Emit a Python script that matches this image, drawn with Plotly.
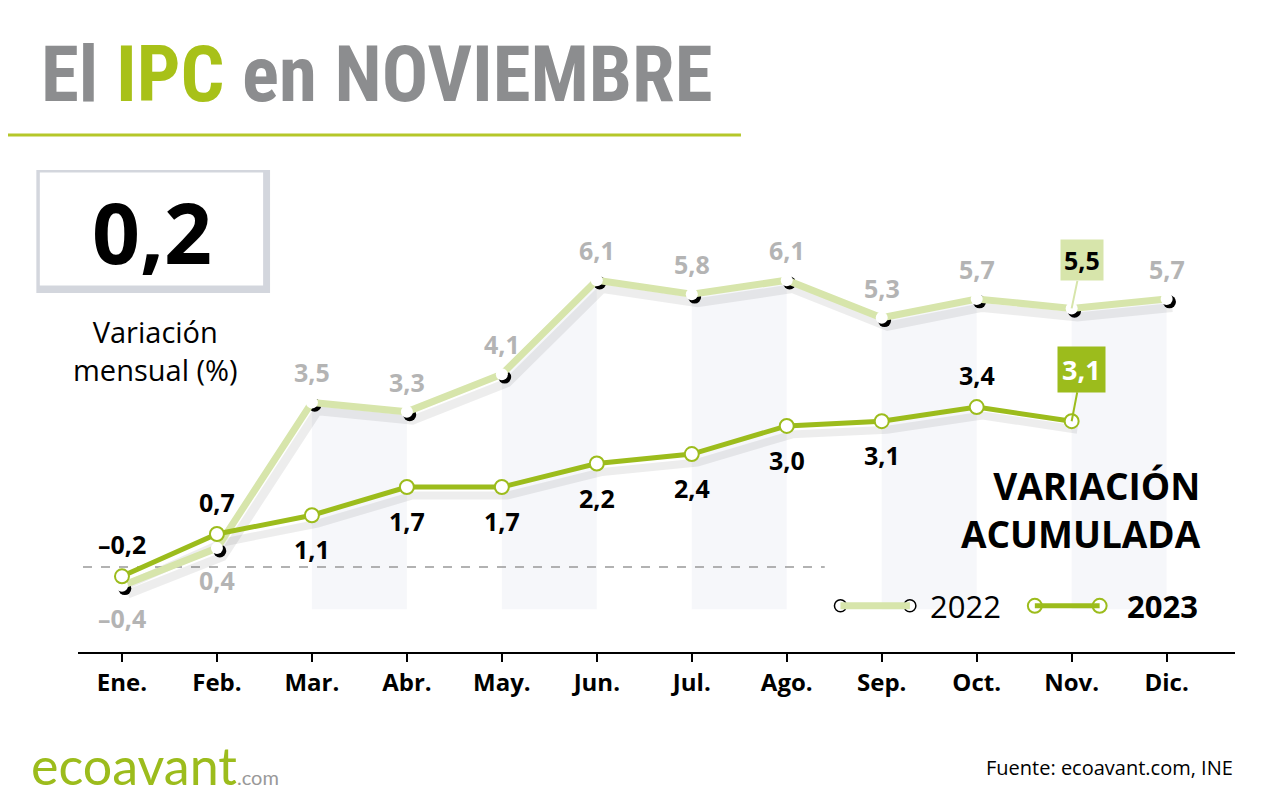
import plotly.graph_objects as go

meses = ['Ene.', 'Feb.', 'Mar.', 'Abr.', 'May.', 'Jun.', 'Jul.', 'Ago.', 'Sep.', 'Oct.', 'Nov.', 'Dic.']
ipc_2022 = [-0.4, 0.4, 3.5, 3.3, 4.1, 6.1, 5.8, 6.1, 5.3, 5.7, 5.5, 5.7]
ipc_2023 = [-0.2, 0.7, 1.1, 1.7, 1.7, 2.2, 2.4, 3.0, 3.1, 3.4, 3.1]
mensual = '0,2'

GREEN = '#9cbc1c'
LIGHT = '#d7e5ab'
GRAY = '#8c8d8f'
FONT = 'Open Sans'

x22 = list(range(len(ipc_2022)))
x23 = list(range(len(ipc_2023)))
fmt = lambda v: f'{v:.1f}'.replace('.', ',').replace('-', '–')

fig = go.Figure()

# franjas grises bajo la curva 2022
for i in range(2, 12, 2):
    xs = [i, i + 1, i + 1, i, i]
    ys = [ipc_2022[i], ipc_2022[i + 1], -0.9, -0.9, ipc_2022[i]]
    fig.add_trace(go.Scatter(x=xs, y=ys, fill='toself', fillcolor='rgba(228,231,240,0.35)',
                             line=dict(width=0), mode='lines', hoverinfo='skip', showlegend=False))

# zero line
fig.add_trace(go.Scatter(x=[-0.6, 7.4], y=[0, 0], mode='lines',
                         line=dict(color='#999', width=1.5, dash='dash'), showlegend=False))

# sombras
for xs, ys, w in [(x22, ipc_2022, 9), (x23, ipc_2023, 8)]:
    fig.add_trace(go.Scatter(x=[v + 0.06 for v in xs], y=[v - 0.18 for v in ys], mode='lines',
                             line=dict(color='rgba(0,0,0,0.07)', width=w), showlegend=False))

fig.add_trace(go.Scatter(x=[v + 0.03 for v in x22], y=[v - 0.06 for v in ipc_2022], mode='markers',
                         marker=dict(size=13, color='black'), showlegend=False))
fig.add_trace(go.Scatter(x=x22, y=ipc_2022, mode='lines+markers', name='2022',
                         line=dict(color=LIGHT, width=7),
                         marker=dict(size=12, color='white'), showlegend=False))
fig.add_trace(go.Scatter(x=x23, y=ipc_2023, mode='lines+markers', name='2023',
                         line=dict(color=GREEN, width=5),
                         marker=dict(size=14, color='white', line=dict(color=GREEN, width=2)),
                         showlegend=False))

# etiquetas 2022
for i, v in enumerate(ipc_2022):
    if i == 10:
        continue
    shift = -32 if i < 2 else 30
    fig.add_annotation(x=i, y=v, text=f'<b>{fmt(v)}</b>', showarrow=False, yshift=shift,
                       font=dict(size=25, color='#b4b4b4', family=FONT))
fig.add_annotation(x=10, y=ipc_2022[10], text=f'<b>{fmt(ipc_2022[10])}</b>', showarrow=True,
                   ax=10, ay=-48, arrowcolor=LIGHT, arrowwidth=2, arrowhead=0,
                   bgcolor=LIGHT, borderpad=3, font=dict(size=25, color='black', family=FONT))

# etiquetas 2023
above = {0, 1, 9}
for i, v in enumerate(ipc_2023):
    if i == 10:
        continue
    fig.add_annotation(x=i, y=v, text=f'<b>{fmt(v)}</b>', showarrow=False,
                       yshift=32 if i in above else -34,
                       font=dict(size=25, color='black', family=FONT))
fig.add_annotation(x=10, y=ipc_2023[10], text=f'<b>{fmt(ipc_2023[10])}</b>', showarrow=True,
                   ax=10, ay=-52, arrowcolor=GREEN, arrowwidth=2, arrowhead=0,
                   bgcolor=GREEN, borderpad=4, font=dict(size=27, color='white', family=FONT))

fig.update_xaxes(range=[-0.463, 11.72], tickvals=x22, ticktext=[f'<b>{m}</b>' for m in meses],
                 showgrid=False, zeroline=False, showline=True, linecolor='black', linewidth=2,
                 ticks='outside', tickcolor='black', ticklen=8, tickwidth=1.5,
                 tickfont=dict(size=24, color='black', family=FONT))
fig.update_yaxes(range=[-1.81, 8.87], visible=False)


def txt(x, y, text, size, color='black', xanchor='center', family=FONT, align='center'):
    fig.add_annotation(xref='paper', yref='paper', x=x, y=y, xanchor=xanchor, yanchor='middle',
                       showarrow=False, text=text, align=align,
                       font=dict(size=size, color=color, family=family))


# titulo
txt(-0.034, 1.15, '<b>El <span style="color:#a8c118">IPC</span> en NOVIEMBRE</b>', 77, GRAY,
    xanchor='left', family='Roboto Condensed, Roboto')
shapes = [dict(type='line', xref='paper', yref='paper', x0=-0.068, x1=0.573, y0=1.03, y1=1.03,
               line=dict(color='#b5c72a', width=3))]

# caja variacion mensual
shapes.append(dict(type='rect', xref='paper', yref='paper', x0=-0.036, x1=0.166, y0=0.715, y1=0.96,
                   fillcolor='#d3d6dd', line=dict(width=0), layer='below'))
shapes.append(dict(type='rect', xref='paper', yref='paper', x0=-0.033, x1=0.160, y0=0.73, y1=0.955,
                   fillcolor='white', line=dict(width=0), layer='below'))
txt(0.064, 0.837, f'<b>{mensual}</b>', 84)
txt(0.0666, 0.60, 'Variación<br>mensual (%)', 29)

txt(0.972, 0.283, '<b>VARIACIÓN<br>ACUMULADA</b>', 37, xanchor='right', align='right')

# leyenda manual
ly = 0.092
shapes += [
    dict(type='line', xref='paper', yref='paper', x0=0.659, x1=0.719, y0=ly, y1=ly,
         line=dict(color=LIGHT, width=7)),
    dict(type='line', xref='paper', yref='paper', x0=0.827, x1=0.883, y0=ly, y1=ly,
         line=dict(color=GREEN, width=5)),
]
fig.add_trace(go.Scatter(x=[0.659, 0.719], y=[ly, ly], xaxis='x2', yaxis='y2', mode='markers',
                         marker=dict(size=12, color='white', line=dict(color='black', width=1.5)),
                         showlegend=False))
fig.add_trace(go.Scatter(x=[0.827, 0.883], y=[ly, ly], xaxis='x2', yaxis='y2', mode='markers',
                         marker=dict(size=14, color='white', line=dict(color=GREEN, width=2)),
                         showlegend=False))
txt(0.735, ly, '2022', 31, xanchor='left')
txt(0.905, ly, '<b>2023</b>', 31, xanchor='left')

# pie
txt(-0.042, -0.225, '<span style="color:#9cbc1c">ecoavant</span><span style="font-size:20px;color:#999">.com</span>',
    52, family='Lato', xanchor='left')
txt(1.0, -0.231, 'Fuente: ecoavant.com, INE', 20, xanchor='right')

# la página añade 8 px de margen al cuerpo
fig.update_layout(
    width=1272, height=792, plot_bgcolor='white', paper_bgcolor='white',
    margin=dict(l=70, r=45, t=142, b=148, autoexpand=False), shapes=shapes,
    xaxis2=dict(range=[0, 1], overlaying='x', visible=False),
    yaxis2=dict(range=[0, 1], overlaying='y', visible=False),
)
fig.write_html('out.html')
